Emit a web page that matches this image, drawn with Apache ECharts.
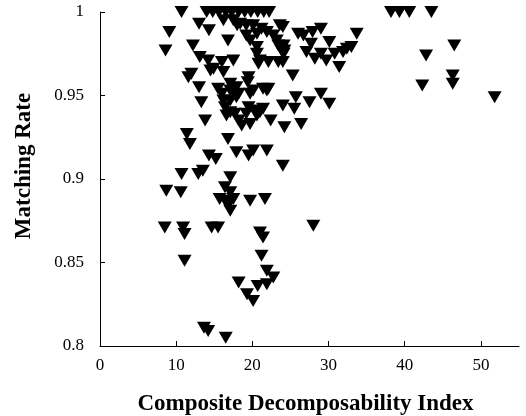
<!DOCTYPE html>
<html>
<head>
<meta charset="utf-8">
<script src="https://cdn.jsdelivr.net/npm/echarts@6/dist/echarts.min.js"></script>
<style>html,body{margin:0;padding:0;background:#fff;}#c{width:526px;height:416px;}</style>
</head>
<body>
<div id="c"></div>
<script>
// Composite Decomposability Index (x) vs Matching Rate (y)
const xValues = [
  10.7,14.0,14.8,15.6,16.5,17.3,18.2,19.0,19.8,20.7,21.5,22.2,38.2,39.3,40.6,43.5,
  46.5,42.8,46.3,46.3,42.3,51.8,
  26.0,26.7,27.9,29.0,27.7,30.1,27.1,28.2,29.7,30.8,31.9,33.0,33.7,31.4,29.0,32.4,24.0,24.1,24.2,24.0,25.3,
  25.7,27.5,29.0,30.1,25.5,24.0,24.2,26.4,24.0,28.0,
  9.1,8.6,12.2,13.0,14.3,13.1,14.2,14.5,12.0,11.6,13.0,13.3,13.8,11.4,11.8,14.3,15.2,12.9,13.5,10.7,8.7,10.6,8.5,10.9,11.1,11.1,14.65,15.5,13.65,14.2,16.5,
  16.8,17.1,16.4,17.1,15.7,16.6,17.5,16.8,17.1,17.9,19.5,20.1,21.9,19.7,21.65,21.0,21.4,21.2,21.9,22.75,21.9,20.7,18.2,19.3,20.1,22.4,
  14.9,16.0,17.5,16.2,19.5,19.4,15.5,16.0,17.1,17.1,17.5,17.9,18.2,16.2,17.1,17.9,16.4,17.1,17.7,16.6,18.2,18.6,19.2,19.5,19.7,19.7,20.1,20.3,21.0,20.6,21.4,21.4,21.9,22.1,
  16.8,16.2,17.5,18.4,19.2,20.1,19.2,19.7,20.6,20.6,20.8,21.0,21.2,21.9,22.75,23.2,23.6,23.4,23.8,24.1,22.1,23.4,20.6,18.0
];
const yValues = [
  1.0,1.0,1.0,1.0,1.0,1.0,1.0,1.0,1.0,1.0,1.0,1.0,1.0,1.0,1.0,1.0,
  0.980,0.974,0.962,0.957,0.956,0.949,
  0.987,0.986,0.988,0.990,0.981,0.982,0.976,0.972,0.971,0.975,0.976,0.979,0.987,0.967,0.975,0.978,0.991,0.980,0.977,0.970,0.962,
  0.949,0.946,0.951,0.945,0.942,0.944,0.931,0.933,0.908,0.872,
  0.988,0.977,0.980,0.993,0.989,0.973,0.971,0.965,0.963,0.961,0.955,0.946,0.935,0.927,0.921,0.914,0.912,0.903,0.905,0.903,0.893,0.892,0.871,0.871,0.867,0.851,0.871,0.871,0.811,0.809,0.805,
  0.924,0.901,0.895,0.892,0.888,0.887,0.888,0.884,0.881,0.916,0.914,0.917,0.917,0.887,0.888,0.868,0.865,0.854,0.845,0.841,0.837,0.836,0.838,0.831,0.827,0.935,
  0.966,0.970,0.971,0.964,0.961,0.958,0.954,0.951,0.957,0.953,0.954,0.955,0.951,0.947,0.947,0.949,0.943,0.940,0.939,0.938,0.935,0.932,0.939,0.943,0.933,0.951,0.953,0.941,0.940,0.938,0.942,0.954,0.953,0.954,
  0.983,0.995,0.995,0.993,0.992,0.992,0.986,0.983,0.979,0.975,0.969,0.971,0.990,0.988,0.986,0.983,0.992,0.980,0.977,0.975,0.970,0.970,0.987,0.992
];
const xTicks = [0, 10, 20, 30, 40, 50];
const xTitle = 'Composite Decomposability Index';
const yTitle = 'Matching Rate';

const points = xValues.map((x, i) => [x, yValues[i]]);

const chart = echarts.init(document.getElementById('c'), null, {renderer: 'canvas'});
const serif = '"Liberation Serif","Times New Roman",serif';
chart.setOption({
  animation: false,
  backgroundColor: '#fff',
  grid: {left: 100, right: 7, top: 12, bottom: 70, containLabel: false, outerBoundsMode: 'none'},
  xAxis: {
    type: 'value', min: 0, max: 55, interval: 10,
    name: xTitle, nameLocation: 'middle', nameGap: 47,
    nameTextStyle: {fontFamily: serif, fontWeight: 'bold', fontSize: 23, color: '#000', padding: [0, 8, 0, 0]},
    axisLine: {show: true, lineStyle: {color: '#000', width: 1}},
    axisTick: {show: true, inside: true, length: 5, lineStyle: {color: '#000'}, customValues: xTicks},
    axisLabel: {fontFamily: serif, fontSize: 17, color: '#000', margin: 11, customValues: xTicks},
    splitLine: {show: false}
  },
  yAxis: {
    type: 'value', min: 0.8, max: 1, interval: 0.05,
    name: yTitle, nameLocation: 'middle', nameGap: 64,
    nameTextStyle: {fontFamily: serif, fontWeight: 'bold', fontSize: 23, color: '#000', padding: [0, 0, 0, 26]},
    axisLine: {show: true, lineStyle: {color: '#000', width: 1}},
    axisTick: {show: true, inside: true, length: 5, lineStyle: {color: '#000'}},
    axisLabel: {fontFamily: serif, fontSize: 17, color: '#000', margin: 16},
    splitLine: {show: false}
  },
  series: [{
    type: 'scatter',
    data: points,
    symbol: 'triangle',
    symbolRotate: 180,
    symbolSize: [14, 12],
    clip: false,
    itemStyle: {color: '#000', opacity: 1}
  }]
});
</script>
</body>
</html>
